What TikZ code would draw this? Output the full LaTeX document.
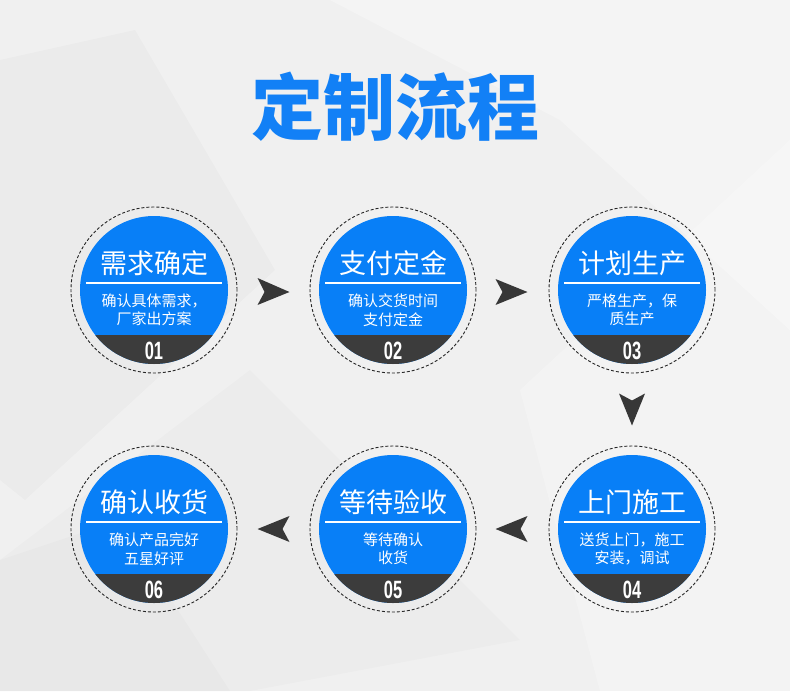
\documentclass[tikz,border=0pt]{standalone}
\usepackage{fontspec}
\usetikzlibrary{calc}
\newfontfamily\cjk{Noto Sans CJK SC}
\newfontfamily\numfont[FakeStretch=0.66]{Liberation Sans}
\definecolor{bgbase}{RGB}{240,240,240}
\definecolor{flowblue}{RGB}{8,127,247}
\definecolor{titleblue}{RGB}{18,128,246}
\definecolor{banddark}{RGB}{60,60,60}
\definecolor{arrowdark}{RGB}{55,55,55}
\tikzset{
  ringdash/.style={circle,draw=black!85,dash pattern=on 3pt off 2pt,line width=0.9pt,minimum size=166pt,inner sep=0pt,outer sep=0pt},
  steptitle/.style={text=white,font=\cjk\fontsize{27}{30}\selectfont,inner sep=0pt},
  stepsub/.style={text=white,font=\cjk\fontsize{15}{18.5}\selectfont,align=center,inner sep=0pt},
  stepnum/.style={text=white,font=\numfont\bfseries\fontsize{25}{26}\selectfont,inner sep=0pt},
  arrowfill/.style={fill=arrowdark,draw=none},
}
\newcommand\flowstep[6]{%
  \node[ringdash] (#1) at (#2) {};
  \fill[flowblue] (#1.center) circle (74);
  \begin{scope}
    \clip (#1.center) circle (74);
    \fill[banddark] ($(#1.center)+(-80,45)$) rectangle ($(#1.center)+(80,80)$);
  \end{scope}
  \draw[white,line width=1.1pt] ($(#1.center)+(-68,-7)$) -- ($(#1.center)+(68,-7)$);
  \node[steptitle] (#1t) at ($(#1.center)+(0,-27)$) {#3};
  \node[stepsub] (#1s) at ($(#1.center)+(0,20)$) {#4};
  \node[stepnum] (#1n) at ($(#1.center)+(0,61)$) {#5};
}
\begin{document}
\begin{tikzpicture}[x=1pt,y=-1pt]
\useasboundingbox (0,0) rectangle (790,691);
% background
\fill[bgbase] (0,0) rectangle (790,691);
\fill[white,opacity=0.3] (0,0) -- (790,0) -- (790,330) -- (560,120) -- (330,0) -- cycle;
\fill[black,opacity=0.02] (0,60) -- (135,30) -- (275,270) -- (25,500) -- (0,480) -- cycle;
\fill[black,opacity=0.015] (250,370) -- (520,640) -- (250,691) -- (0,691) -- (0,560) -- cycle;
\fill[white,opacity=0.25] (520,390) -- (790,140) -- (790,691) -- (600,691) -- cycle;
\fill[black,opacity=0.015] (0,560) -- (120,520) -- (230,691) -- (0,691) -- cycle;
% title
\node[text=titleblue,font=\cjk\bfseries\fontsize{72}{76}\selectfont,inner sep=0pt] (title) at (395,107) {定制流程};
% steps
\flowstep{c1}{154,290}{需求确定}{确认具体需求，\\厂家出方案}{01}{}
\flowstep{c2}{393,290}{支付定金}{确认交货时间\\支付定金}{02}{}
\flowstep{c3}{632,290}{计划生产}{严格生产，保\\质生产}{03}{}
\flowstep{c4}{632,529}{上门施工}{送货上门，施工\\安装，调试}{04}{}
\flowstep{c5}{393,529}{等待验收}{等待确认\\收货}{05}{}
\flowstep{c6}{154,529}{确认收货}{确认产品完好\\五星好评}{06}{}
% arrows
\coordinate (a12) at ($(c1.center)!0.5!(c2.center)$);
\coordinate (a23) at ($(c2.center)!0.5!(c3.center)+(-1,2)$);
\coordinate (a34) at ($(c3.center)!0.5!(c4.center)$);
\coordinate (a45) at ($(c4.center)!0.5!(c5.center)+(-1,0)$);
\coordinate (a56) at ($(c5.center)!0.5!(c6.center)$);
\begin{scope}[shift={(a12)}]\fill[arrowfill] (16,2) -- (-16,-12) -- (-9,2) -- (-16,15) -- cycle;\end{scope}
\begin{scope}[shift={(a23)}]\fill[arrowfill] (16,0) -- (-16,-13) -- (-9,0) -- (-16,13) -- cycle;\end{scope}
\begin{scope}[shift={(a34)}]\fill[arrowfill] (0,16) -- (-13,-16) -- (0,-9) -- (13,-16) -- cycle;\end{scope}
\begin{scope}[shift={(a45)}]\fill[arrowfill] (-16,0) -- (16,-13) -- (9,0) -- (16,13) -- cycle;\end{scope}
\begin{scope}[shift={(a56)}]\fill[arrowfill] (-16,0) -- (16,-13) -- (9,0) -- (16,13) -- cycle;\end{scope}
\end{tikzpicture}
\end{document}
